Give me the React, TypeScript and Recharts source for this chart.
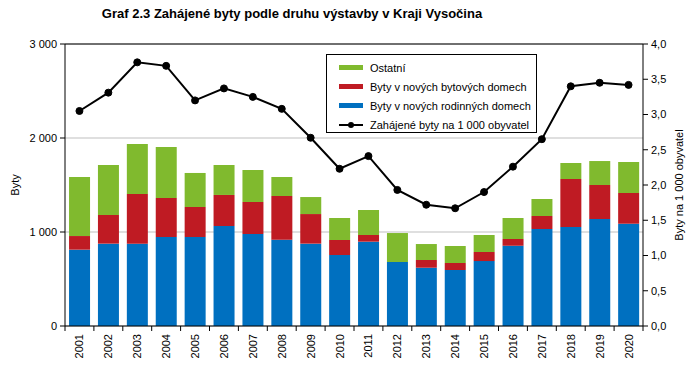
import React from 'react';
import {
  ComposedChart,
  Bar,
  Line,
  XAxis,
  YAxis,
  CartesianGrid,
  ReferenceLine,
} from 'recharts';

const years = ['2001', '2002', '2003', '2004', '2005', '2006', '2007', '2008', '2009', '2010',
  '2011', '2012', '2013', '2014', '2015', '2016', '2017', '2018', '2019', '2020'];

// Byty v nových rodinných domech
const rodinne = [812, 876, 876, 947, 947, 1064, 979, 918, 876, 755, 897, 681, 620, 596, 691, 854, 1032, 1053, 1138, 1088];
// Byty v nových bytových domech
const bytove = [145, 305, 528, 415, 319, 330, 340, 465, 315, 160, 71, 0, 82, 74, 96, 72, 138, 511, 362, 327];
// Ostatní
const ostatni = [628, 532, 532, 542, 362, 319, 341, 202, 181, 234, 266, 308, 170, 181, 181, 223, 181, 170, 255, 330];
// Zahájené byty na 1 000 obyvatel
const naTisic = [3.05, 3.31, 3.74, 3.69, 3.2, 3.37, 3.25, 3.08, 2.67, 2.23, 2.41, 1.93, 1.72, 1.67, 1.9, 2.26, 2.65, 3.4, 3.45, 3.42];

const leftTicks = [0, 1000, 2000, 3000];
const rightTicks = [0, 0.5, 1, 1.5, 2, 2.5, 3, 3.5, 4];

const data = years.map((y, i) => ({
  year: y,
  rodinne: rodinne[i],
  bytove: bytove[i],
  ostatni: ostatni[i],
  naTisic: naTisic[i],
}));

const GREEN = '#80BA2E';
const RED = '#BF1B23';
const BLUE = '#0070C0';
const FONT = '"Liberation Sans", Arial, sans-serif';

const fmtLeft = (v: number) => (v >= 1000 ? `${Math.floor(v / 1000)} ${String(v % 1000).padStart(3, '0')}` : String(v));
const fmtRight = (v: number) => v.toFixed(1).replace('.', ',');

const BAND = 578 / years.length;

const YearTick = (props: any) => {
  const { x, payload, index } = props;
  const axisY = 326;
  return (
    <g>
      <line x1={x - BAND / 2} x2={x - BAND / 2} y1={axisY} y2={axisY + 5} stroke="#000" />
      {index === years.length - 1 && (
        <line x1={x + BAND / 2} x2={x + BAND / 2} y1={axisY} y2={axisY + 5} stroke="#000" />
      )}
      <text
        transform={`translate(${x + 4},${axisY + 8}) rotate(-90)`}
        textAnchor="end"
        fontSize={11}
        fontFamily={FONT}
        fill="#000"
      >
        {payload.value}
      </text>
    </g>
  );
};

const legendItems = [
  { label: 'Ostatní', color: GREEN, type: 'bar' },
  { label: 'Byty v nových bytových domech', color: RED, type: 'bar' },
  { label: 'Byty v nových rodinných domech', color: BLUE, type: 'bar' },
  { label: 'Zahájené byty na 1 000 obyvatel', color: '#000', type: 'line' },
];

export default function App() {
  return (
    <div style={{ position: 'absolute', left: 0, top: 0, width: 694, height: 372, background: '#fff', fontFamily: FONT }}>
      <div
        style={{
          position: 'absolute',
          left: 0,
          top: 6,
          width: 584,
          textAlign: 'center',
          fontSize: 13,
          fontWeight: 'bold',
          color: '#000',
        }}
      >
        Graf 2.3 Zahájené byty podle druhu výstavby v Kraji Vysočina
      </div>

      <ComposedChart
        width={694}
        height={372}
        data={data}
        margin={{ top: 44, right: 0, bottom: 0, left: 0 }}
        barCategoryGap="14%"
      >
        <CartesianGrid yAxisId="left" vertical={false} stroke="#BFBFBF" />
        <XAxis
          dataKey="year"
          height={46}
          axisLine={{ stroke: '#000' }}
          tickLine={false}
          tick={<YearTick />}
          interval={0}
        />
        <YAxis
          yAxisId="left"
          orientation="left"
          width={65}
          domain={[0, 3000]}
          ticks={leftTicks}
          tickFormatter={fmtLeft}
          axisLine={{ stroke: '#000' }}
          tickLine={{ stroke: '#000' }}
          tickSize={5}
          tickMargin={3}
          tick={{ fontSize: 11, fill: '#000', fontFamily: FONT }}
          label={{ value: 'Byty', angle: -90, position: 'insideLeft', offset: 15, style: { fontSize: 11, fill: '#000', fontFamily: FONT, textAnchor: 'middle' } }}
        />
        <YAxis
          yAxisId="right"
          orientation="right"
          width={51}
          domain={[0, 4]}
          ticks={rightTicks}
          tickFormatter={fmtRight}
          axisLine={{ stroke: '#000' }}
          tickLine={{ stroke: '#000' }}
          tickSize={5}
          tickMargin={3}
          tick={{ fontSize: 11, fill: '#000', fontFamily: FONT, textAnchor: 'start' }}
          label={{ value: 'Byty na 1 000 obyvatel', angle: -90, position: 'insideRight', offset: 15, style: { fontSize: 11, fill: '#000', fontFamily: FONT, textAnchor: 'middle' } }}
        />
        <ReferenceLine yAxisId="left" y={3000} stroke="#000" />
        <Bar yAxisId="left" dataKey="rodinne" stackId="a" fill={BLUE} isAnimationActive={false} />
        <Bar yAxisId="left" dataKey="bytove" stackId="a" fill={RED} isAnimationActive={false} />
        <Bar yAxisId="left" dataKey="ostatni" stackId="a" fill={GREEN} isAnimationActive={false} />
        <Line
          yAxisId="right"
          dataKey="naTisic"
          type="linear"
          stroke="#000"
          strokeWidth={2}
          dot={{ r: 3.5, fill: '#000', stroke: '#000', strokeWidth: 1 }}
          isAnimationActive={false}
        />
      </ComposedChart>

      <div
        style={{
          position: 'absolute',
          left: 326,
          top: 54,
          width: 211,
          height: 79,
          border: '1px solid #000',
          background: '#fff',
          boxSizing: 'border-box',
          paddingTop: 3,
        }}
      >
        {legendItems.map((it) => (
          <div key={it.label} style={{ display: 'flex', alignItems: 'center', height: 19, paddingLeft: 12 }}>
            <div style={{ position: 'relative', width: 24, height: 10, marginRight: 7 }}>
              {it.type === 'bar' ? (
                <div style={{ position: 'absolute', top: 2.5, left: 0, width: 24, height: 5, background: it.color }} />
              ) : (
                <>
                  <div style={{ position: 'absolute', top: 4, left: 0, width: 24, height: 2, background: '#000' }} />
                  <div style={{ position: 'absolute', top: 2, left: 9, width: 6, height: 6, borderRadius: 3, background: '#000' }} />
                </>
              )}
            </div>
            <span style={{ fontSize: 11, color: '#000', whiteSpace: 'nowrap' }}>{it.label}</span>
          </div>
        ))}
      </div>
    </div>
  );
}
